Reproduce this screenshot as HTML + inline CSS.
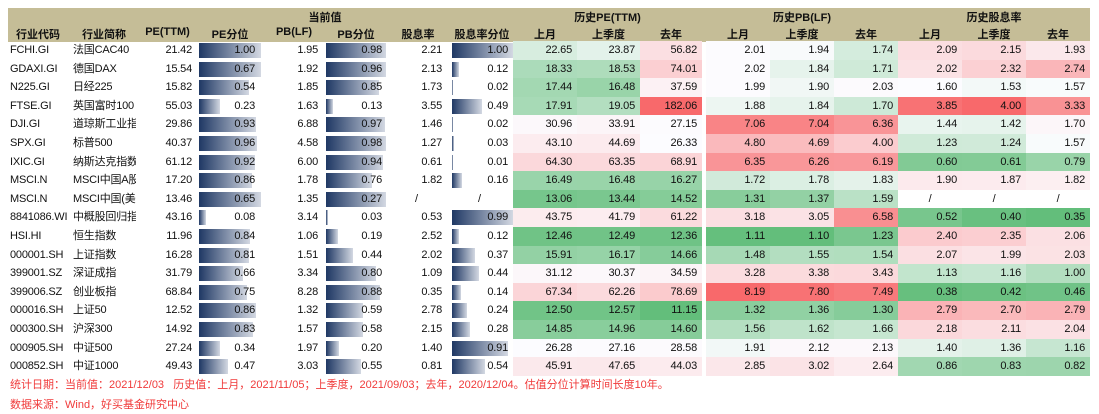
<!DOCTYPE html>
<html><head><meta charset="utf-8">
<style>
*{margin:0;padding:0;box-sizing:border-box}
body{width:1099px;height:414px;background:#fff;font-family:"Liberation Sans","Noto Sans CJK SC",sans-serif;font-size:11px;color:#111;position:relative;overflow:hidden}
.hd{position:absolute;left:8px;top:8px;width:1082px;height:34px;background:#C5BD97}
.t{position:absolute;white-space:nowrap;line-height:18.6px;letter-spacing:-0.2px}
.h{position:absolute;font-weight:bold;font-size:11px;white-space:nowrap;text-align:center}
.bar{position:absolute;height:15px;background:linear-gradient(to right,#1F3864,#D3D8E2)}
.c{position:absolute;height:18.6px;line-height:18.6px;text-align:right;padding-right:5px;letter-spacing:-0.2px}
.foot{position:absolute;left:10px;color:#F03A3A;font-size:11px;white-space:nowrap}
</style></head><body>
<div class="hd"></div>
<div class="h" style="left:295px;top:9px;width:60px">当前值</div>
<div class="h" style="left:513px;top:9px;width:189px">历史PE(TTM)</div>
<div class="h" style="left:706px;top:9px;width:192px">历史PB(LF)</div>
<div class="h" style="left:898px;top:9px;width:192px">历史股息率</div>
<div class="h" style="left:8px;top:26px;width:60px">行业代码</div>
<div class="h" style="left:72px;top:26px;width:64px">行业简称</div>
<div class="h" style="left:140px;top:26px;width:55px">PE(TTM)</div>
<div class="h" style="left:199px;top:26px;width:62px">PE分位</div>
<div class="h" style="left:268px;top:26px;width:52px">PB(LF)</div>
<div class="h" style="left:326px;top:26px;width:60px">PB分位</div>
<div class="h" style="left:392px;top:26px;width:52px">股息率</div>
<div class="h" style="left:450px;top:26px;width:64px">股息率分位</div>
<div class="h" style="left:513px;top:26px;width:64px">上月</div>
<div class="h" style="left:577px;top:26px;width:63px">上季度</div>
<div class="h" style="left:640px;top:26px;width:62px">去年</div>
<div class="h" style="left:706px;top:26px;width:64px">上月</div>
<div class="h" style="left:770px;top:26px;width:64px">上季度</div>
<div class="h" style="left:834px;top:26px;width:64px">去年</div>
<div class="h" style="left:898px;top:26px;width:64px">上月</div>
<div class="h" style="left:962px;top:26px;width:64px">上季度</div>
<div class="h" style="left:1026px;top:26px;width:64px">去年</div>
<div id="rows"></div>
<div class="foot" style="top:376px">统计日期：当前值：2021/12/03&nbsp;&nbsp;&nbsp;历史值：上月，2021/11/05；上季度，2021/09/03；去年，2020/12/04。估值分位计算时间长度10年。</div>
<div class="foot" style="top:396px">数据来源：Wind，好买基金研究中心</div>
<script>
var D=[
["FCHI.GI","法国CAC40","21.42","1.00",62,"1.95","0.98",60,"2.21","1.00",61,[22.65,23.87,56.82],[2.01,1.94,1.74],[2.09,2.15,1.93]],
["GDAXI.GI","德国DAX","15.54","0.67",62,"1.92","0.96",60,"2.13","0.12",7,[18.33,18.53,74.01],[2.02,1.84,1.71],[2.02,2.32,2.74]],
["N225.GI","日经225","15.82","0.54",50,"1.85","0.85",53,"1.73","0.02",1,[17.44,16.48,37.59],[1.99,1.90,2.03],[1.60,1.53,1.57]],
["FTSE.GI","英国富时100","55.03","0.23",21,"1.63","0.13",7,"3.55","0.49",30,[17.91,19.05,182.06],[1.88,1.84,1.70],[3.85,4.00,3.33]],
["DJI.GI","道琼斯工业指","29.86","0.93",57,"6.88","0.97",59,"1.46","0.02",1,[30.96,33.91,27.15],[7.06,7.04,6.36],[1.44,1.42,1.70]],
["SPX.GI","标普500","40.37","0.96",58,"4.58","0.98",60,"1.27","0.03",2,[43.10,44.69,26.33],[4.80,4.69,4.00],[1.23,1.24,1.57]],
["IXIC.GI","纳斯达克指数","61.12","0.92",56,"6.00","0.94",57,"0.61","0.01",1,[64.30,63.35,68.91],[6.35,6.26,6.19],[0.60,0.61,0.79]],
["MSCI.N","MSCI中国A股","17.20","0.86",53,"1.78","0.76",46,"1.82","0.16",10,[16.49,16.48,16.27],[1.72,1.78,1.83],[1.90,1.87,1.82]],
["MSCI.N","MSCI中国(美","13.46","0.65",62,"1.35","0.27",60,"/","/",0,[13.06,13.44,14.52],[1.31,1.37,1.59],["/","/","/"]],
["8841086.WI","中概股回归指","43.16","0.08",7,"3.14","0.03",2,"0.53","0.99",61,[43.75,41.79,61.22],[3.18,3.05,6.58],[0.52,0.40,0.35]],
["HSI.HI","恒生指数","11.96","0.84",51,"1.06","0.19",12,"2.52","0.12",7,[12.46,12.49,12.36],[1.11,1.10,1.23],[2.40,2.35,2.06]],
["000001.SH","上证指数","16.28","0.81",50,"1.51","0.44",27,"2.02","0.37",23,[15.91,16.17,14.66],[1.48,1.55,1.54],[2.07,1.99,2.03]],
["399001.SZ","深证成指","31.79","0.66",44,"3.34","0.80",50,"1.09","0.44",27,[31.12,30.37,34.59],[3.28,3.38,3.43],[1.13,1.16,1.00]],
["399006.SZ","创业板指","68.84","0.75",48,"8.28","0.88",54,"0.35","0.14",9,[67.34,62.26,78.69],[8.19,7.80,7.49],[0.38,0.42,0.46]],
["000016.SH","上证50","12.52","0.86",57,"1.32","0.59",37,"2.78","0.24",15,[12.50,12.57,11.15],[1.32,1.36,1.30],[2.79,2.70,2.79]],
["000300.SH","沪深300","14.92","0.83",54,"1.57","0.58",37,"2.15","0.28",18,[14.85,14.96,14.60],[1.56,1.62,1.66],[2.18,2.11,2.04]],
["000905.SH","中证500","27.24","0.34",21,"1.97","0.20",13,"1.40","0.91",56,[26.28,27.16,28.58],[1.91,2.12,2.13],[1.40,1.36,1.16]],
["000852.SH","中证1000","49.43","0.47",29,"3.03","0.55",35,"0.81","0.54",33,[45.91,47.65,44.03],[2.85,3.02,2.64],[0.86,0.83,0.82]]];
function stats(k){var a=[];D.forEach(function(r){r[k].forEach(function(v){if(typeof v=="number")a.push(v)})});a.sort(function(x,y){return x-y});var n=a.length;var m=n%2?a[(n-1)/2]:(a[n/2-1]+a[n/2])/2;return[a[0],m,a[n-1]]}
function mix(c1,c2,t){return"rgb("+[0,1,2].map(function(i){return Math.round(c1[i]+(c2[i]-c1[i])*t)}).join(",")+")"}
var G=[99,190,123],W=[252,252,255],R=[248,105,107];
function col(v,s){if(typeof v!="number")return"#fff";if(v<=s[1])return mix(G,W,(v-s[0])/(s[1]-s[0]));return mix(W,R,(v-s[1])/(s[2]-s[1]))}
var S=[stats(11),stats(12),stats(13)];
var X=[[513,577,640],[706,770,834],[898,962,1026]],Wd=[[64,63,62],[64,64,64],[64,64,64]];
var h="";
D.forEach(function(r,i){var y=41+i*18.6;
h+='<div class="t" style="left:10px;top:'+y+'px">'+r[0]+'</div>';
h+='<div class="t" style="left:73px;top:'+y+'px;width:63px;overflow:hidden">'+r[1]+'</div>';
h+='<div class="c" style="left:140px;top:'+y+'px;width:57px">'+r[2]+'</div>';
h+='<div class="bar" style="left:199px;top:'+(y+2)+'px;width:'+r[4]+'px"></div>';
h+='<div class="c" style="left:199px;top:'+y+'px;width:61px">'+r[3]+'</div>';
h+='<div class="c" style="left:268px;top:'+y+'px;width:55px">'+r[5]+'</div>';
h+='<div class="bar" style="left:326px;top:'+(y+2)+'px;width:'+r[7]+'px"></div>';
h+='<div class="c" style="left:326px;top:'+y+'px;width:61px">'+r[6]+'</div>';
if(r[8]=="/"){h+='<div class="t" style="left:415px;top:'+y+'px">/</div><div class="t" style="left:478px;top:'+y+'px">/</div>';}
else{h+='<div class="c" style="left:390px;top:'+y+'px;width:57px">'+r[8]+'</div>';
h+='<div class="bar" style="left:452px;top:'+(y+2)+'px;width:'+r[10]+'px"></div>';
h+='<div class="c" style="left:452px;top:'+y+'px;width:61px">'+r[9]+'</div>';}
for(var b=0;b<3;b++)for(var j=0;j<3;j++){var v=r[11+b][j];
var txt=typeof v=="number"?v.toFixed(2):v;
h+='<div class="c" style="left:'+X[b][j]+'px;top:'+y+'px;width:'+Wd[b][j]+'px;height:18.8px;background:'+col(v,S[b])+(v=="/"?';text-align:center;padding:0':'')+'">'+txt+'</div>';}
});
document.getElementById("rows").innerHTML=h;
</script>
</body></html>
